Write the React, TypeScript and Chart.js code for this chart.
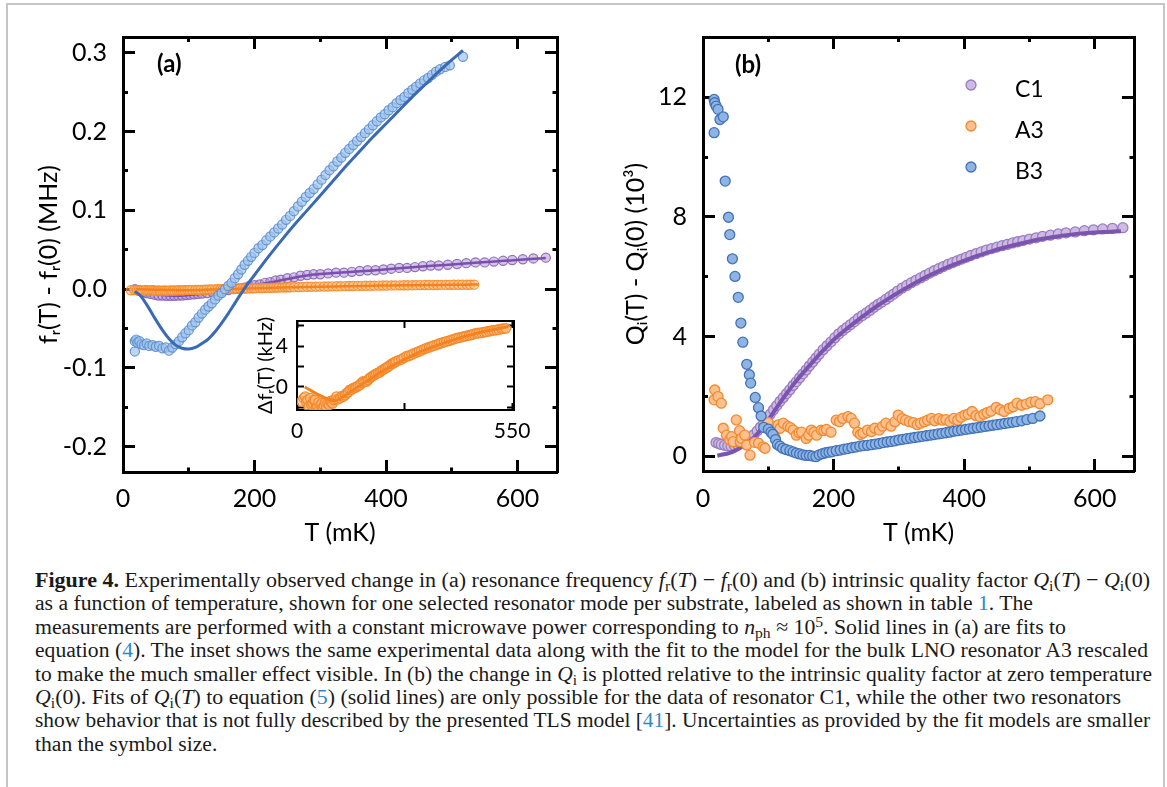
import React, { useEffect, useLayoutEffect, useRef } from 'react';
import { Chart, registerables } from 'chart.js';

Chart.register(...registerables);

type Pt = [number, number];

const FONT = "Lato, 'DejaVu Sans', sans-serif";

// ---------- tick labels ----------
const X_TICK_LABELS = [0, 200, 400, 600];
const FREQ_TICK_LABELS = [-0.2, -0.1, 0, 0.1, 0.2, 0.3];
const Q_TICK_LABELS = [0, 4, 8, 12];
const INSET_X_TICKS = [0, 275, 550];
const INSET_X_LABELS = [0, 550];
const INSET_Y_LABELS = [0, 4];

// ---------- panel (a): f_r(T) - f_r(0) (MHz) vs T (mK) ----------
const B3_FREQ: Pt[] = [
  [18, -0.066], [18, -0.079], [20, -0.064], [22, -0.068], [25, -0.066], [28, -0.07], [32, -0.071],
  [36, -0.069], [40, -0.072], [45, -0.071], [50, -0.073], [55, -0.072], [60, -0.075], [65, -0.074],
  [70, -0.078], [75, -0.074], [80, -0.07], [85, -0.066], [90, -0.061], [95, -0.056], [100, -0.052],
  [105, -0.046], [110, -0.042], [115, -0.036], [120, -0.031], [125, -0.026], [130, -0.022], [135, -0.018],
  [140, -0.013], [145, -0.008], [150, -0.005], [155, 0.0], [160, 0.004], [165, 0.008], [170, 0.014],
  [175, 0.019], [180, 0.025], [185, 0.031], [190, 0.036], [195, 0.041], [200, 0.046], [206, 0.052],
  [212, 0.056], [218, 0.062], [224, 0.067], [230, 0.072], [236, 0.077], [242, 0.082], [248, 0.088],
  [254, 0.093], [260, 0.099], [266, 0.105], [272, 0.111], [278, 0.117], [284, 0.122], [290, 0.127],
  [296, 0.133], [302, 0.139], [308, 0.145], [314, 0.151], [320, 0.156], [326, 0.162], [332, 0.167],
  [338, 0.173], [344, 0.178], [350, 0.183], [356, 0.188], [362, 0.193], [368, 0.198], [374, 0.203],
  [380, 0.208], [386, 0.213], [392, 0.218], [398, 0.222], [404, 0.227], [410, 0.231], [416, 0.236],
  [422, 0.24], [428, 0.244], [434, 0.249], [440, 0.253], [446, 0.257], [452, 0.261], [458, 0.265],
  [464, 0.268], [470, 0.272], [476, 0.276], [482, 0.279], [490, 0.282], [497, 0.284], [517, 0.295],
];
const B3_FREQ_FIT: Pt[] = [
  [18, -0.003], [25, -0.007], [30, -0.012], [40, -0.025], [50, -0.039], [60, -0.052], [70, -0.063],
  [80, -0.071], [90, -0.075], [100, -0.076], [110, -0.074], [120, -0.069], [130, -0.063], [140, -0.054],
  [150, -0.043], [160, -0.031], [170, -0.018], [180, -0.005], [190, 0.007], [200, 0.018], [220, 0.04],
  [240, 0.061], [260, 0.081], [280, 0.1], [300, 0.119], [320, 0.138], [340, 0.157], [360, 0.175],
  [380, 0.193], [400, 0.21], [420, 0.227], [440, 0.244], [460, 0.26], [480, 0.276], [500, 0.291], [517, 0.303],
];
const C1_FREQ: Pt[] = [
  [18, 0.0], [24, -0.002], [30, -0.004], [36, -0.005], [42, -0.006], [48, -0.007], [54, -0.008], [60, -0.008],
  [66, -0.0085], [72, -0.0085], [78, -0.0085], [84, -0.008], [90, -0.008], [96, -0.0075], [102, -0.007],
  [108, -0.0065], [114, -0.006], [120, -0.0055], [128, -0.005], [136, -0.004], [144, -0.003], [152, -0.002],
  [160, -0.001], [168, 0.0], [176, 0.001], [184, 0.002], [192, 0.004], [200, 0.005], [208, 0.006],
  [216, 0.008], [224, 0.009], [232, 0.011], [240, 0.012], [250, 0.014], [260, 0.015], [270, 0.017],
  [280, 0.018], [290, 0.019], [300, 0.019], [312, 0.02], [324, 0.021], [336, 0.021], [348, 0.022],
  [360, 0.023], [372, 0.024], [384, 0.024], [396, 0.025], [408, 0.026], [420, 0.027], [432, 0.027],
  [444, 0.028], [456, 0.029], [468, 0.03], [480, 0.03], [494, 0.031], [508, 0.032], [522, 0.033],
  [536, 0.034], [550, 0.034], [564, 0.035], [578, 0.036], [592, 0.037], [608, 0.038], [624, 0.039], [643, 0.04],
];
const C1_FREQ_FIT: Pt[] = [
  [18, 0.0], [40, -0.005], [60, -0.0075], [80, -0.0085], [100, -0.0075], [120, -0.0058], [140, -0.0036],
  [160, -0.0012], [180, 0.0015], [200, 0.0048], [230, 0.0095], [260, 0.0145], [290, 0.0185], [320, 0.0205],
  [350, 0.0222], [380, 0.0238], [410, 0.0258], [440, 0.0277], [470, 0.0296], [500, 0.0314], [530, 0.0332],
  [560, 0.0348], [590, 0.0365], [620, 0.0382], [643, 0.0395],
];
// A3 in kHz (inset); the main panel shows the same data in MHz
const A3_FREQ_KHZ: Pt[] = [
  [12, -1.43], [17, -1.1], [21, -0.94], [24, -1.5], [27, -1.27], [30, -1.9], [34, -1.1], [37, -1.75],
  [40, -1.6], [43, -1.3], [46, -1.27], [49, -2.0], [52, -1.92], [55, -1.5], [57, -2.2], [60, -1.8],
  [63, -1.6], [66, -2.05], [69, -1.85], [72, -1.5], [75, -1.92], [78, -1.6], [82, -1.76], [85, -1.4],
  [88, -1.5], [91, -1.6], [94, -1.27], [98, -1.2], [101, -0.94], [105, -1.2], [110, -1.1], [114, -0.9],
  [118, -0.94], [123, -0.8], [127, -0.6], [131, -0.5], [135, -0.28], [140, -0.25], [144, -0.11],
  [148, -0.05], [152, -0.02], [156, 0.1], [161, 0.2], [165, 0.4], [169, 0.55], [173, 0.5], [178, 0.55],
  [182, 0.7], [186, 0.87], [190, 1.0], [195, 1.1], [199, 1.2], [203, 1.3], [208, 1.4], [212, 1.43],
  [216, 1.6], [220, 1.7], [225, 1.8], [229, 1.92], [233, 2.0], [237, 2.1], [242, 2.25], [246, 2.34],
  [250, 2.4], [254, 2.5], [260, 2.6], [267, 2.7], [273, 2.85], [280, 3.0], [286, 3.05], [293, 3.15],
  [299, 3.28], [306, 3.38], [312, 3.48], [318, 3.58], [325, 3.7], [331, 3.8], [338, 3.88], [344, 3.97],
  [350, 4.05], [357, 4.13], [363, 4.22], [369, 4.3], [376, 4.38], [382, 4.45], [389, 4.52], [395, 4.6],
  [401, 4.68], [408, 4.77], [414, 4.82], [421, 4.87], [427, 4.94], [433, 5.0], [440, 5.05], [446, 5.1],
  [452, 5.18], [459, 5.25], [465, 5.27], [472, 5.3], [478, 5.35], [484, 5.4], [491, 5.45], [497, 5.5],
  [503, 5.53], [510, 5.57], [516, 5.62], [523, 5.67], [528, 5.7], [534, 5.73],
];
const A3_FREQ_FIT_KHZ: Pt[] = [
  [20, 0.0], [30, -0.22], [40, -0.45], [50, -0.66], [60, -0.85], [70, -1.03], [80, -1.2], [90, -1.32],
  [100, -1.33], [110, -1.15], [120, -0.9], [130, -0.65], [140, -0.4], [150, -0.15], [160, 0.1],
  [170, 0.35], [185, 0.72], [200, 1.1], [220, 1.56], [240, 2.0], [260, 2.42], [280, 2.8], [300, 3.16],
  [320, 3.5], [340, 3.81], [360, 4.1], [380, 4.36], [400, 4.6], [420, 4.84], [440, 5.05], [460, 5.25],
  [480, 5.45], [500, 5.6], [520, 5.75], [540, 5.9],
];

// ---------- panel (b): Q_i(T) - Q_i(0) (10^3) vs T (mK) ----------
const C1_Q: Pt[] = [
  [20, 0.45], [24, 0.42], [28, 0.39], [33, 0.36], [38, 0.34], [43, 0.33], [48, 0.35], [53, 0.38], [58, 0.42],
  [63, 0.48], [68, 0.55], [73, 0.63], [78, 0.72], [83, 0.84], [88, 0.97], [93, 1.1], [98, 1.25], [103, 1.4],
  [108, 1.55], [113, 1.69], [118, 1.83], [123, 1.96], [128, 2.09], [133, 2.22], [138, 2.36], [143, 2.49],
  [148, 2.62], [153, 2.75], [158, 2.88], [163, 3.02], [168, 3.15], [173, 3.28], [178, 3.41], [184, 3.56],
  [190, 3.69], [196, 3.82], [202, 3.96], [208, 4.09], [214, 4.2], [220, 4.3], [226, 4.4], [232, 4.5],
  [238, 4.61], [244, 4.7], [250, 4.79], [256, 4.88], [262, 4.98], [268, 5.07], [274, 5.15], [280, 5.24],
  [286, 5.33], [292, 5.42], [298, 5.52], [305, 5.62], [312, 5.71], [319, 5.8], [326, 5.88], [333, 5.96],
  [340, 6.04], [347, 6.12], [354, 6.2], [361, 6.27], [368, 6.34], [375, 6.41], [382, 6.47], [389, 6.53],
  [396, 6.59], [403, 6.65], [410, 6.71], [418, 6.77], [426, 6.83], [434, 6.89], [442, 6.94], [450, 6.99],
  [458, 7.04], [466, 7.08], [474, 7.13], [482, 7.17], [490, 7.21], [500, 7.26], [510, 7.3], [520, 7.35],
  [532, 7.39], [544, 7.43], [556, 7.47], [570, 7.5], [584, 7.54], [598, 7.57], [612, 7.6], [627, 7.62], [643, 7.64],
];
const C1_Q_FIT: Pt[] = [
  [22, 0.02], [30, 0.05], [40, 0.1], [50, 0.19], [60, 0.31], [70, 0.47], [80, 0.67], [90, 0.92], [100, 1.21],
  [110, 1.53], [120, 1.85], [130, 2.15], [140, 2.44], [150, 2.7], [160, 2.95], [170, 3.2], [180, 3.44],
  [190, 3.67], [200, 3.89], [210, 4.08], [220, 4.26], [230, 4.43], [240, 4.6], [250, 4.76], [260, 4.92],
  [270, 5.07], [280, 5.21], [290, 5.35], [300, 5.48], [320, 5.73], [340, 5.97], [360, 6.18], [380, 6.37],
  [400, 6.54], [420, 6.7], [440, 6.84], [460, 6.97], [480, 7.08], [500, 7.18], [520, 7.27], [540, 7.34],
  [560, 7.4], [580, 7.45], [600, 7.48], [620, 7.5], [640, 7.52],
];
const A3_Q: Pt[] = [
  [17, 1.88], [18, 2.21], [23, 1.99], [28, 1.77], [31, 0.93], [36, 0.7], [41, 0.54], [44, 0.65], [46, 0.48],
  [51, 1.21], [56, 0.85], [57, 0.48], [59, 0.59], [64, 0.7], [67, 0.37], [72, 0.03], [79, 0.46], [85, 0.43],
  [92, 0.31], [95, 0.26], [100, 1.12], [106, 0.9], [110, 0.65], [115, 1.04], [118, 0.93], [123, 1.1],
  [130, 0.99], [134, 0.95], [138, 0.87], [143, 0.7], [147, 0.78], [151, 0.8], [158, 0.59], [162, 0.7],
  [166, 0.87], [170, 0.8], [174, 0.7], [181, 0.87], [185, 0.85], [189, 0.89], [196, 0.8], [204, 1.2],
  [209, 1.15], [214, 1.26], [222, 1.32], [227, 1.26], [232, 1.1], [237, 0.8], [241, 0.72], [245, 0.77],
  [252, 0.87], [258, 0.82], [263, 0.93], [270, 0.87], [275, 1.0], [280, 1.1], [288, 1.0], [294, 1.15],
  [299, 1.37], [305, 1.25], [310, 1.2], [316, 1.15], [322, 1.12], [328, 1.05], [333, 1.1], [339, 1.15],
  [344, 1.2], [350, 1.26], [355, 1.18], [361, 1.25], [367, 1.2], [372, 1.22], [378, 1.15], [384, 1.26],
  [390, 1.2], [395, 1.3], [401, 1.37], [406, 1.4], [412, 1.49], [418, 1.35], [424, 1.32], [430, 1.4],
  [435, 1.45], [441, 1.5], [449, 1.63], [455, 1.55], [461, 1.49], [469, 1.6], [475, 1.65], [481, 1.77],
  [488, 1.7], [495, 1.74], [502, 1.8], [509, 1.82], [516, 1.75], [528, 1.88],
];
const B3_Q: Pt[] = [
  [17, 11.93], [17, 10.82], [18, 11.82], [20, 11.71], [23, 11.6], [26, 11.26], [31, 11.35], [34, 9.2],
  [39, 7.99], [41, 7.41], [45, 6.6], [49, 6.01], [54, 5.31], [58, 4.45], [61, 3.81], [67, 3.07], [71, 2.72],
  [73, 2.44], [80, 1.96], [85, 1.62], [89, 1.34], [93, 0.96], [100, 0.9], [104, 0.8], [107, 0.73],
  [111, 0.55], [114, 0.39], [118, 0.33], [122, 0.26], [127, 0.22], [133, 0.18], [138, 0.14], [143, 0.1],
  [148, 0.07], [153, 0.04], [158, 0.02], [163, 0.02], [168, 0.0], [173, -0.02], [178, 0.04], [183, 0.08],
  [188, 0.11], [193, 0.13], [198, 0.15], [204, 0.18], [210, 0.2], [216, 0.23], [222, 0.25], [228, 0.28],
  [234, 0.3], [240, 0.33], [246, 0.35], [252, 0.36], [258, 0.38], [264, 0.4], [270, 0.42], [276, 0.45],
  [282, 0.47], [288, 0.49], [294, 0.51], [300, 0.54], [306, 0.56], [312, 0.58], [318, 0.6], [324, 0.62],
  [330, 0.64], [336, 0.66], [342, 0.68], [348, 0.7], [354, 0.72], [360, 0.74], [366, 0.76], [372, 0.78],
  [378, 0.8], [384, 0.83], [390, 0.85], [396, 0.87], [402, 0.89], [408, 0.91], [414, 0.93], [420, 0.95],
  [426, 0.97], [432, 0.99], [438, 1.01], [444, 1.03], [450, 1.05], [456, 1.07], [462, 1.09], [468, 1.11],
  [474, 1.13], [480, 1.15], [488, 1.18], [496, 1.22], [505, 1.26], [516, 1.34],
];

// ---------- helpers ----------
const toXY = (pts: Pt[], k = 1) => pts.map(([x, y]) => ({ x, y: y * k }));
const has = (arr: number[], v: number) => arr.some((a) => Math.abs(a - v) < 1e-6);

interface FrameSpec {
  xMin: number; xMax: number; xStep: number; xTickValues?: number[];
  yMin: number; yMax: number; yStep: number;
  xLabels: number[]; yLabels: number[];
  fmtY: (v: number) => string;
  tickFont: number; titleFont: number;
  majorLen: number; minorLen: number | null;
  borderW: number; tickW: number;
  leftW: number; bottomH: number;
  xLabelPad: number; yLabelPad: number;
  xTitle?: string; xTitlePad?: number;
  yTitle: string; yTitlePad: number;
}

function makeScales(s: FrameSpec) {
  const L = s.majorLen;
  const m = s.minorLen;
  const half = s.borderW / 2;
  const isMinor = (labels: number[], v: number) => m !== null && !has(labels, v);
  const dashIn = (labels: number[]) => (c: any) =>
    c.tick && isMinor(labels, c.tick.value) ? [0, L - (m as number), (m as number) + half + 1, 1000] : [];
  const dashOut = (labels: number[]) => (c: any) =>
    c.tick && isMinor(labels, c.tick.value) ? [(m as number) + half, 1000] : [];
  const zeroPad = (sc: any) => {
    sc.paddingTop = 0; sc.paddingBottom = 0; sc.paddingLeft = 0; sc.paddingRight = 0;
  };
  const setXTicks = (sc: any) => {
    if (s.xTickValues) sc.ticks = s.xTickValues.map((v) => ({ value: v }));
  };
  const grid = (dash: any) => ({
    drawOnChartArea: false, drawTicks: true, tickLength: -L, tickWidth: s.tickW,
    tickColor: '#000', tickBorderDash: dash,
  });
  const border = { display: true, width: s.borderW, color: '#000' };
  const font = { family: FONT, size: s.tickFont };
  const titleFont = { family: FONT, size: s.titleFont };
  return {
    x: {
      type: 'linear', axis: 'x', position: 'bottom', min: s.xMin, max: s.xMax, border,
      grid: grid(dashOut(s.xLabels)),
      ticks: {
        stepSize: s.xStep, includeBounds: false, autoSkip: false, maxRotation: 0, minRotation: 0,
        padding: s.xLabelPad, font, color: '#000',
        callback: (v: number) => (has(s.xLabels, v) ? String(v) : ''),
      },
      title: s.xTitle
        ? { display: true, text: s.xTitle, font: titleFont, color: '#000', padding: { top: 0, bottom: s.xTitlePad } }
        : { display: false },
      afterBuildTicks: setXTicks,
      afterFit: (sc: any) => { sc.height = s.bottomH; zeroPad(sc); },
    },
    x2: {
      type: 'linear', axis: 'x', position: 'top', min: s.xMin, max: s.xMax, border,
      grid: grid(dashIn(s.xLabels)),
      ticks: { stepSize: s.xStep, includeBounds: false, display: false },
      afterBuildTicks: setXTicks,
      afterFit: (sc: any) => { sc.height = 0; zeroPad(sc); },
    },
    y: {
      type: 'linear', axis: 'y', position: 'left', min: s.yMin, max: s.yMax, border,
      grid: grid(dashIn(s.yLabels)),
      ticks: {
        stepSize: s.yStep, includeBounds: false, autoSkip: false, padding: s.yLabelPad, font, color: '#000',
        callback: (v: number) => (has(s.yLabels, v) ? s.fmtY(v) : ''),
      },
      title: { display: true, text: s.yTitle, font: titleFont, color: '#000', padding: { top: s.yTitlePad, bottom: 0 } },
      afterFit: (sc: any) => { sc.width = s.leftW; zeroPad(sc); },
    },
    y2: {
      type: 'linear', axis: 'y', position: 'right', min: s.yMin, max: s.yMax, border,
      grid: grid(dashOut(s.yLabels)),
      ticks: { stepSize: s.yStep, includeBounds: false, display: false },
      afterFit: (sc: any) => { sc.width = 0; zeroPad(sc); },
    },
  };
}

const pointsDs = (label: string, data: any[], fill: string, stroke: string, r: number, bw: number, order: number, legend = false) => ({
  label, data, showLine: false, order, inLegend: legend,
  pointRadius: r, pointHoverRadius: r, pointBackgroundColor: fill, pointBorderColor: stroke, pointBorderWidth: bw,
  backgroundColor: fill, borderColor: stroke,
});
const lineDs = (label: string, data: any[], color: string, w: number, order: number) => ({
  label, data, showLine: true, order, pointRadius: 0, pointHoverRadius: 0,
  borderColor: color, backgroundColor: color, borderWidth: w, cubicInterpolationMode: 'monotone', fill: false,
});

const insideLegend = {
  id: 'insideLegend',
  afterDatasetsDraw(chart: any, _args: any, opts: any) {
    if (!opts || !opts.display) return;
    const { ctx, chartArea } = chart;
    const items = chart.data.datasets.filter((d: any) => d.inLegend);
    ctx.save();
    items.forEach((d: any, i: number) => {
      const cx = chartArea.left + opts.x;
      const cy = chartArea.top + opts.y + i * opts.gap;
      ctx.beginPath();
      ctx.arc(cx, cy, d.pointRadius, 0, Math.PI * 2);
      ctx.fillStyle = d.pointBackgroundColor;
      ctx.fill();
      ctx.lineWidth = d.pointBorderWidth;
      ctx.strokeStyle = d.pointBorderColor;
      ctx.stroke();
      ctx.font = `${opts.size}px ${FONT}`;
      ctx.fillStyle = '#000';
      ctx.textAlign = 'left';
      ctx.textBaseline = 'alphabetic';
      ctx.fillText(d.label, chartArea.left + opts.textX, cy + opts.baseDy);
    });
    ctx.restore();
  },
};

const baseOptions = (padding: any, scales: any, extraPlugins: any = {}) => ({
  responsive: false,
  maintainAspectRatio: false,
  devicePixelRatio: 1,
  animation: false,
  events: [],
  layout: { padding },
  plugins: { legend: { display: false }, tooltip: { enabled: false }, ...extraPlugins },
  scales,
});

function buildA() {
  const scales = makeScales({
    xMin: 0, xMax: 660, xStep: 100, yMin: -0.232, yMax: 0.32, yStep: 0.05,
    xLabels: X_TICK_LABELS, yLabels: FREQ_TICK_LABELS,
    fmtY: (v) => (Math.abs(v) < 1e-9 ? '0.0' : v.toFixed(1)),
    tickFont: 25, titleFont: 25, majorLen: 12, minorLen: 5, borderW: 3, tickW: 3,
    leftW: 123, bottomH: 88, xLabelPad: 24, yLabelPad: 28,
    xTitle: 'T (mK)', xTitlePad: 12, yTitle: 'f\u1D63(T) - f\u1D63(0) (MHz)', yTitlePad: 34,
  });
  return {
    type: 'scatter',
    data: {
      datasets: [
        pointsDs('C1', toXY(C1_FREQ), 'rgba(178,150,212,0.55)', 'rgba(128,92,180,0.85)', 4.6, 1.2, 6),
        lineDs('C1 fit', toXY(C1_FREQ_FIT), '#7a4fae', 2.5, 5),
        pointsDs('A3', toXY(A3_FREQ_KHZ, 0.001), 'rgba(251,188,128,0.55)', 'rgba(245,138,38,0.9)', 4.6, 1.2, 4),
        lineDs('A3 fit', toXY(A3_FREQ_FIT_KHZ, 0.001), '#f5821f', 2.5, 3),
        pointsDs('B3', toXY(B3_FREQ), 'rgba(160,195,235,0.7)', 'rgba(92,142,208,0.9)', 4.6, 1.2, 2),
        lineDs('B3 fit', toXY(B3_FREQ_FIT), '#3a6ab4', 3, 1),
      ],
    },
    options: baseOptions({ left: 0, top: 37, right: 23, bottom: 0 }, scales),
  };
}

function buildInset() {
  const scales = makeScales({
    xMin: 0, xMax: 555, xStep: 275, xTickValues: INSET_X_TICKS, yMin: -2.25, yMax: 6.45, yStep: 2,
    xLabels: INSET_X_LABELS, yLabels: INSET_Y_LABELS,
    fmtY: (v) => String(Math.round(v)),
    tickFont: 21, titleFont: 20, majorLen: 7, minorLen: null, borderW: 2, tickW: 2,
    leftW: 77, bottomH: 40, xLabelPad: 16, yLabelPad: 16,
    yTitle: '\u0394f\u1D63(T) (kHz)', yTitlePad: 34,
  });
  return {
    type: 'scatter',
    data: {
      datasets: [
        pointsDs('A3', toXY(A3_FREQ_KHZ), 'rgba(251,190,132,0.6)', 'rgba(244,137,42,0.95)', 4.8, 1.3, 2),
        lineDs('A3 fit', toXY(A3_FREQ_FIT_KHZ), '#f5821f', 3, 1),
      ],
    },
    options: baseOptions({ left: 0, top: 21, right: 46, bottom: 0 }, scales),
  };
}

function buildB() {
  const scales = makeScales({
    xMin: 0, xMax: 660, xStep: 100, yMin: -0.5, yMax: 14.02, yStep: 2,
    xLabels: X_TICK_LABELS, yLabels: Q_TICK_LABELS,
    fmtY: (v) => String(Math.round(v)),
    tickFont: 25, titleFont: 25, majorLen: 12, minorLen: 5, borderW: 3, tickW: 3,
    leftW: 123, bottomH: 89, xLabelPad: 25, yLabelPad: 28,
    xTitle: 'T (mK)', xTitlePad: 12, yTitle: 'Q\u1D62(T) - Q\u1D62(0) (10\u00B3)', yTitlePad: 41,
  });
  return {
    type: 'scatter',
    data: {
      datasets: [
        pointsDs('C1', toXY(C1_Q), '#cdbbe0', '#9a7cc4', 5, 1.3, 4, true),
        lineDs('C1 fit', toXY(C1_Q_FIT), '#7b54b0', 4, 3),
        pointsDs('A3', toXY(A3_Q), '#fdc08e', '#f28a2e', 5, 1.3, 2, true),
        pointsDs('B3', toXY(B3_Q), '#8db4e2', '#4372b8', 5, 1.3, 1, true),
      ],
    },
    options: baseOptions({ left: 0, top: 37, right: 33, bottom: 0 }, scales, {
      insideLegend: { display: true, x: 268, y: 48, gap: 41, textX: 312, baseDy: 12, size: 23 },
    }),
    plugins: [insideLegend],
  };
}

function ChartCanvas(props: { left: number; top: number; width: number; height: number; build: () => any }) {
  const ref = useRef<HTMLCanvasElement>(null);
  useEffect(() => {
    if (!ref.current) return;
    const chart = new Chart(ref.current, props.build());
    return () => chart.destroy();
  }, []);
  return (
    <canvas
      ref={ref}
      width={props.width}
      height={props.height}
      style={{ position: 'absolute', left: props.left, top: props.top, width: props.width, height: props.height }}
    />
  );
}

const LINK: React.CSSProperties = { color: '#2f8ac4' };
const SUB: React.CSSProperties = { fontSize: '0.72em', position: 'relative', top: '0.28em', verticalAlign: 'baseline' };
const SUP: React.CSSProperties = { fontSize: '0.72em', position: 'relative', top: '-0.42em', verticalAlign: 'baseline' };

const CAPTION_LEFT = 35;
// right edge (page x) of each caption line in the reference; the last line is left at its natural width
const CAPTION_LINE_ENDS = [1150, 1033, 1066, 1148, 1152, 1121, 1150];

function Caption() {
  const refs = useRef<(HTMLSpanElement | null)[]>([]);
  useLayoutEffect(() => {
    refs.current.forEach((el, i) => {
      if (!el || i >= CAPTION_LINE_ENDS.length) return;
      el.style.transform = 'none';
      const w = el.getBoundingClientRect().width;
      if (w > 0) el.style.transform = `scaleX(${(CAPTION_LINE_ENDS[i] - CAPTION_LEFT) / w})`;
    });
  }, []);
  const lines: React.ReactNode[] = [
    <><b>Figure 4.</b> Experimentally observed change in (a) resonance frequency <i>f</i><span style={SUB}>r</span>(<i>T</i>) − <i>f</i><span style={SUB}>r</span>(0) and (b) intrinsic quality factor <i>Q</i><span style={SUB}>i</span>(<i>T</i>) − <i>Q</i><span style={SUB}>i</span>(0)</>,
    <>as a function of temperature, shown for one selected resonator mode per substrate, labeled as shown in table <span style={LINK}>1</span>. The</>,
    <>measurements are performed with a constant microwave power corresponding to <i>n</i><span style={SUB}>ph</span> ≈ 10<span style={SUP}>5</span>. Solid lines in (a) are fits to</>,
    <>equation (<span style={LINK}>4</span>). The inset shows the same experimental data along with the fit to the model for the bulk LNO resonator A3 rescaled</>,
    <>to make the much smaller effect visible. In (b) the change in <i>Q</i><span style={SUB}>i</span> is plotted relative to the intrinsic quality factor at zero temperature</>,
    <><i>Q</i><span style={SUB}>i</span>(0). Fits of <i>Q</i><span style={SUB}>i</span>(<i>T</i>) to equation (<span style={LINK}>5</span>) (solid lines) are only possible for the data of resonator C1, while the other two resonators</>,
    <>show behavior that is not fully described by the presented TLS model [<span style={LINK}>41</span>]. Uncertainties as provided by the fit models are smaller</>,
    <>than the symbol size.</>,
  ];
  return (
    <div
      style={{
        position: 'absolute', left: CAPTION_LEFT, top: 569, fontFamily: "'Liberation Serif', 'Times New Roman', serif",
        fontSize: 21.6, lineHeight: '23.4px', color: '#1a1a1a', whiteSpace: 'nowrap',
      }}
    >
      {lines.map((content, i) => (
        <div key={i} style={{ height: 23.4 }}>
          <span ref={(el) => { refs.current[i] = el; }} style={{ display: 'inline-block', transformOrigin: '0 0' }}>
            {content}
          </span>
        </div>
      ))}
    </div>
  );
}

export default function App() {
  const panelLabel: React.CSSProperties = {
    position: 'absolute', fontFamily: FONT, fontWeight: 700, fontSize: 24, lineHeight: '24px', color: '#000',
  };
  return (
    <div style={{ position: 'absolute', left: 0, top: 0, width: 1167, height: 787, overflow: 'hidden', background: '#fff' }}>
      <div
        style={{
          position: 'absolute', left: 6, top: 3, width: 1155, height: 800,
          borderLeft: '2px solid #c6c6c6', borderTop: '2px solid #c6c6c6', borderRight: '2px solid #c6c6c6',
        }}
      />
      <ChartCanvas left={0} top={0} width={580} height={560} build={buildA} />
      <ChartCanvas left={580} top={0} width={587} height={560} build={buildB} />
      <ChartCanvas left={220} top={300} width={340} height={150} build={buildInset} />
      <div style={{ ...panelLabel, left: 157, top: 51 }}>(a)</div>
      <div style={{ ...panelLabel, left: 735, top: 52 }}>(b)</div>
      <Caption />
    </div>
  );
}
